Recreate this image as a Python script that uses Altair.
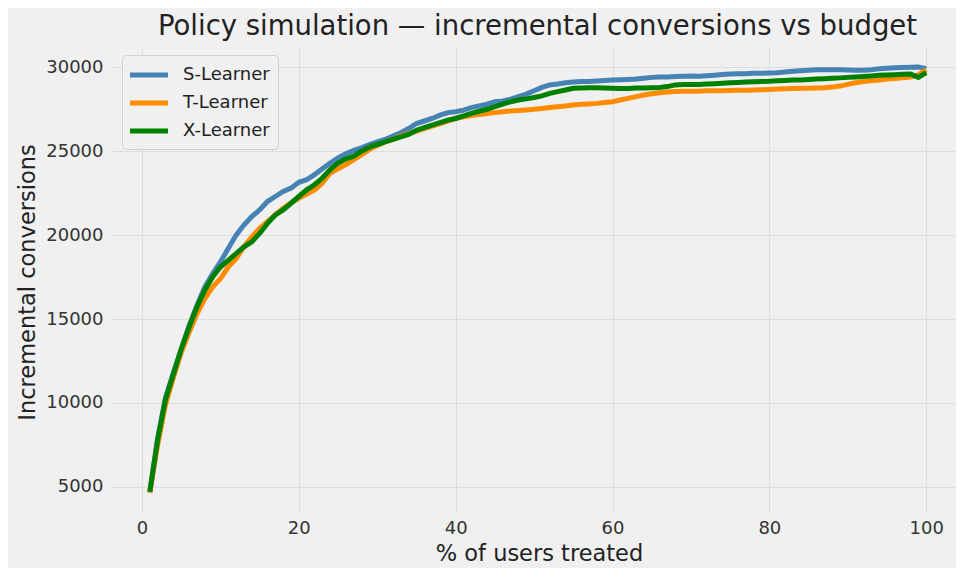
import altair as alt
import pandas as pd

pct = list(range(1, 101))

s_learner = [
    4700, 7900, 10300, 11800, 13200, 14600, 15800, 16900, 17700, 18400,
    19200, 20000, 20600, 21100, 21500, 22000, 22300, 22600, 22800, 23150,
    23300, 23600, 23950, 24300, 24600, 24850, 25050, 25200, 25400, 25550,
    25700, 25900, 26100, 26350, 26650, 26800, 26950, 27150, 27300, 27350,
    27450, 27600, 27700, 27800, 27950, 28000, 28100, 28250, 28400, 28600,
    28800, 28950, 29000, 29080, 29120, 29150, 29150, 29180, 29220, 29250,
    29260, 29280, 29300, 29350, 29400, 29420, 29420, 29450, 29470, 29480,
    29470, 29500, 29530, 29570, 29600, 29610, 29620, 29640, 29650, 29660,
    29680, 29720, 29760, 29800, 29830, 29850, 29860, 29860, 29850, 29840,
    29830, 29820, 29860, 29920, 29950, 29970, 29990, 30010, 30020, 29920,
]

t_learner = [
    4650, 7500, 9900, 11500, 13000, 14200, 15300, 16200, 16900, 17400,
    18100, 18600, 19300, 19900, 20400, 20800, 21200, 21600, 21900, 22200,
    22450, 22700, 23100, 23700, 23950, 24200, 24500, 24800, 25100, 25350,
    25550, 25700, 25900, 26050, 26200, 26350, 26500, 26650, 26800, 26950,
    27050, 27120, 27180, 27250, 27300, 27350, 27400, 27420, 27460, 27500,
    27550, 27600, 27650, 27700, 27750, 27800, 27820, 27850, 27900, 27950,
    28050, 28150, 28250, 28350, 28420, 28480, 28530, 28560, 28580, 28580,
    28580, 28600, 28600, 28600, 28620, 28640, 28640, 28650, 28660, 28680,
    28700, 28720, 28740, 28750, 28750, 28760, 28780, 28820, 28880, 28980,
    29080, 29150, 29200, 29250, 29300, 29330, 29380, 29420, 29550, 29850,
]

x_learner = [
    4700, 7800, 10200, 11700, 13200, 14500, 15700, 16700, 17500, 18100,
    18500, 18900, 19300, 19600, 20100, 20700, 21200, 21500, 21900, 22300,
    22700, 23000, 23400, 23900, 24300, 24550, 24700, 25000, 25250, 25400,
    25550, 25700, 25850, 26000, 26250, 26400, 26550, 26700, 26850, 26950,
    27100, 27250, 27380, 27500, 27650, 27800, 27950, 28050, 28120, 28200,
    28300, 28450, 28550, 28650, 28750, 28770, 28780, 28780, 28770, 28750,
    28740, 28740, 28760, 28770, 28780, 28800, 28850, 28950, 28970, 28970,
    28980, 29000, 29020, 29050, 29080, 29100, 29120, 29140, 29160, 29170,
    29200, 29220, 29240, 29250, 29280, 29300, 29320, 29350, 29370, 29400,
    29420, 29450, 29480, 29520, 29540, 29560, 29580, 29600, 29400, 29680,
]

learners = ["S-Learner", "T-Learner", "X-Learner"]
colors = ["#4682b4", "#ff8c00", "#008000"]

rows = []
for name, vals in zip(learners, [s_learner, t_learner, x_learner]):
    for p, v in zip(pct, vals):
        rows.append({"pct": p, "conv": v, "learner": name})
df = pd.DataFrame(rows)

FONT = "DejaVu Sans"

chart = alt.Chart(df).mark_line(strokeWidth=5, clip=True).encode(
    x=alt.X("pct:Q",
            scale=alt.Scale(domain=[-3.95, 103.8], nice=False, zero=False),
            axis=alt.Axis(values=[0, 20, 40, 60, 80, 100], title="% of users treated",
                          labelPadding=6, titlePadding=5, titleX=428)),
    y=alt.Y("conv:Q",
            scale=alt.Scale(domain=[3440, 31210], nice=False, zero=False),
            axis=alt.Axis(values=[5000, 10000, 15000, 20000, 25000, 30000],
                          title="Incremental conversions", format="d",
                          labelPadding=8, titlePadding=6, titleY=235)),
    color=alt.Color("learner:N",
                    scale=alt.Scale(domain=learners, range=colors),
                    legend=alt.Legend(orient="none", legendX=11, legendY=8, title=None,
                                      symbolType="M-1.263,0H2.737", symbolSize=361,
                                      symbolStrokeWidth=5, labelFontSize=18,
                                      labelFont=FONT, labelColor="#222222",
                                      labelOffset=29, fillColor="#f0f0f0",
                                      strokeColor="#d0d0d0", cornerRadius=4,
                                      padding=8, rowPadding=6)),
    order=alt.Order("pct:Q"),
).properties(
    width=845,
    height=466,
    title=alt.TitleParams("Policy simulation — incremental conversions vs budget",
                          fontSize=27.5, font=FONT, fontWeight="normal",
                          color="#222222", anchor="middle", offset=7, dx=4),
    autosize=alt.AutoSizeParams(type="none"),
    padding={"left": 103, "top": 39, "right": 0, "bottom": 55},
    background="#f0f0f0",
).configure_view(
    stroke=None, fill="#f0f0f0"
).configure_axis(
    grid=True, gridColor="#dedede", gridWidth=1, domain=False, ticks=False,
    labelFont=FONT, labelFontSize=18, labelColor="#333333",
    titleFont=FONT, titleFontSize=22.5, titleFontWeight="normal", titleColor="#222222",
)

chart.save("out.html", embed_options={"renderer": "svg", "actions": False})
